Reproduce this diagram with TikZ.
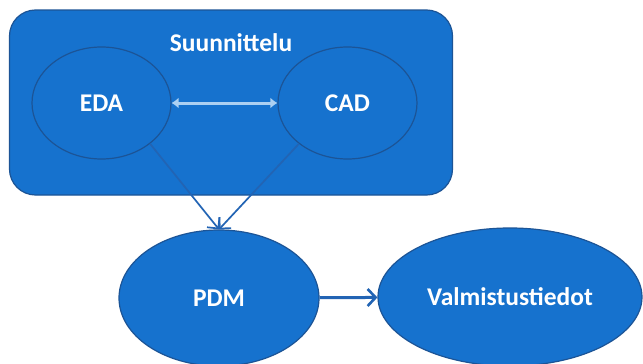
\documentclass[tikz,border=0pt]{standalone}
\usepackage{fontspec}
\setmainfont{Carlito}
\usetikzlibrary{arrows.meta,shapes.geometric}
\definecolor{bfill}{RGB}{22,114,206}
\definecolor{bline}{RGB}{28,84,150}
\definecolor{lblue}{RGB}{172,208,242}
\definecolor{aline}{RGB}{34,100,180}
\tikzset{
  bubble/.style={ellipse,fill=bfill,draw=bline,line width=1.2pt,inner sep=0pt,
    text=white,font=\fontsize{25.5}{30}\selectfont\bfseries},
  panel/.style={rectangle,rounded corners=26pt,fill=bfill,draw=bline,line width=1.2pt},
  lbl/.style={text=white,font=\fontsize{25.5}{30}\selectfont\bfseries,inner sep=0pt},
  thin/.style={draw=aline,line width=1.7pt,-{Straight Barb[length=8pt,width=16pt,line width=1.7pt]}},
  thick/.style={draw=aline,line width=3pt,-{Straight Barb[length=8pt,width=17pt,line width=2.6pt]}},
  dbl/.style={draw=lblue,line width=3pt,{Latex[length=7pt,width=11pt]}-{Latex[length=7pt,width=11pt]}}
}
\begin{document}
\begin{tikzpicture}[x=1pt,y=-1pt]
\useasboundingbox (0,0) rectangle (643,364);
\fill[white] (0,0) rectangle (643,364);
\node[panel,minimum width=443pt,minimum height=185pt] (suun) at (231,102.5) {};
\node[lbl] (title) at (231,43) {Suunnittelu};
\node[bubble,minimum width=139pt,minimum height=112pt] (eda) at (101.5,103) {EDA};
\node[bubble,minimum width=139pt,minimum height=112pt] (cad) at (347.5,103) {CAD};
\node[bubble,minimum width=200pt,minimum height=136pt] (pdm) at (219,298) {PDM};
\node[bubble,minimum width=264pt,minimum height=138pt] (valm) at (510,297) {Valmistustiedot};
\draw[dbl] (eda) -- (cad);
\draw[thin] (eda.-40) -- (pdm.north);
\draw[thin] (cad.-140) -- (pdm.north);
\draw[thick] (pdm) -- (valm);
\end{tikzpicture}
\end{document}
